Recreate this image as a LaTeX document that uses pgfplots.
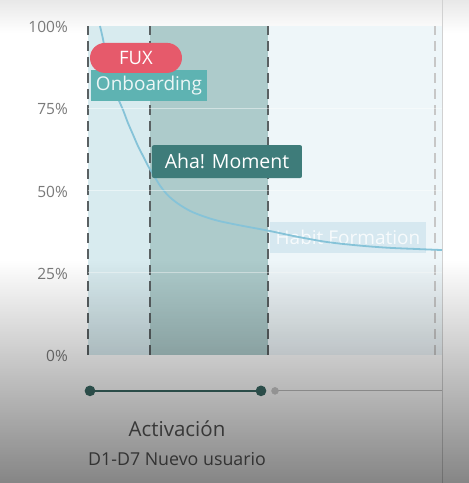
\documentclass[border=0pt]{standalone}
\usepackage{fontspec}
\setmainfont{Open Sans}
\usepackage{pgfplots}
\pgfplotsset{compat=1.18}
\usetikzlibrary{fadings}

\definecolor{fuxred}{HTML}{E65A6B}
\definecolor{onbteal}{HTML}{5EB3B2}
\definecolor{ahateal}{HTML}{3E7C7A}
\definecolor{habitbox}{HTML}{CFE4EE}
\definecolor{leftfill}{HTML}{D8EBEF}
\definecolor{midfill}{HTML}{ADCBCB}
\definecolor{rightfill}{HTML}{EEF6F9}
\definecolor{curveblue}{HTML}{86C3D8}
\definecolor{dashgray}{HTML}{5A6163}
\definecolor{tickgray}{HTML}{7A7A7A}
\definecolor{timeline}{HTML}{3D6B66}

\tikzfading[name=fadeup, top color=transparent!100, bottom color=transparent!0]

\begin{document}
\begin{tikzpicture}[x=1pt,y=1pt]
\useasboundingbox (0,0) rectangle (469,483);
\fill[white] (0,0) rectangle (469,483);
\fill[top color=black!9, bottom color=white] (0,450) rectangle (469,483);

\begin{axis}[
    at={(88pt,128pt)}, anchor=south west,
    scale only axis, width=354pt, height=329pt,
    xmin=0, xmax=354, ymin=0, ymax=100,
    clip=false, axis on top,
    axis line style={draw=none},
    major tick length=0pt, minor tick length=0pt,
    xtick=\empty,
    ytick={0,25,50,75,100},
    yticklabels={0\%,25\%,50\%,75\%,100\%},
    yticklabel style={font=\fontsize{15.5}{17}\selectfont, text=tickgray, anchor=east, inner sep=0pt, xshift=-20pt, yshift=-1pt},
    minor ytick={25,50,75}, yminorgrids,
    minor grid style={white, line width=1.2pt, opacity=0.45},
]
% phase backgrounds
\addplot[draw=none, fill=leftfill] coordinates {(0,0)(62,0)(62,100)(0,100)} -- cycle;
\addplot[draw=none, fill=midfill] coordinates {(62,0)(180,0)(180,100)(62,100)} -- cycle;
\addplot[draw=none, fill=rightfill] coordinates {(180,0)(354,0)(354,100)(180,100)} -- cycle;

% phase boundaries
\addplot[dashgray, line width=2.3pt, dash pattern=on 10pt off 6pt] coordinates {(0,0)(0,100)};
\addplot[dashgray, line width=2.3pt, dash pattern=on 10pt off 6pt] coordinates {(62,0)(62,100)};
\addplot[dashgray, line width=2.3pt, dash pattern=on 10pt off 6pt] coordinates {(180,0)(180,100)};
\addplot[black!22, line width=1.5pt, dash pattern=on 10pt off 6pt] coordinates {(347,0)(347,100)};
\addplot[black!18, line width=1pt] coordinates {(354,107.9)(354,-38.9)};

\node[fill=habitbox, fill opacity=0.75, text opacity=0.8, text=white, minimum width=156pt, minimum height=31pt, inner sep=0pt,
      font=\fontsize{19}{22}\selectfont] at (axis cs:260,35.7) {Habit Formation};

% retention curve
\addplot[curveblue, line width=1.8pt, smooth] coordinates {
    (12,100)(15,96)(18,91)(21,87)(25,82)(30,78)(35,74.5)(40,70.5)(45,67)
    (50,63.5)(55,60.5)(60,57.5)(65,55)(72,51.5)(80,48.5)(90,46)(102,43.8)
    (115,42.2)(130,40.8)(152,39.4)(180,37.8)(210,35.9)(240,34.3)(270,33.3)
    (300,32.6)(330,32.2)(354,31.9)
};

\node[fill=onbteal, text=white!88!onbteal, minimum width=116pt, minimum height=31pt, inner sep=0pt,
      font=\fontsize{19}{22}\selectfont] at (axis cs:61,81.9) {Onboarding};
\node[fill=fuxred, text=white, rounded corners=15pt, minimum width=92pt, minimum height=30pt, inner sep=0pt,
      font=\fontsize{18.5}{22}\selectfont] at (axis cs:48,90.3) {FUX};
\node[fill=ahateal, text=white, rounded corners=2pt, minimum width=150pt, minimum height=33pt, inner sep=0pt,
      font=\fontsize{19.5}{22}\selectfont] at (axis cs:139,58.8) {Aha! Moment};

% timeline
\addplot[black!25, line width=1pt] coordinates {(187,-10.9)(354,-10.9)};
\addplot[only marks, mark=*, mark size=3.5pt, black!20] coordinates {(187,-10.9)};
\addplot[timeline, line width=2.5pt, mark=*, mark size=4pt] coordinates {(2,-10.9)(173,-10.9)};
\end{axis}

% video shade at the bottom
\fill[black, opacity=0.48, path fading=fadeup] (0,0) rectangle (469,223);

\node[text=black!78, font=\fontsize{20.5}{24}\selectfont] at (177,54) {Activación};
\node[text=black!80, font=\fontsize{17.8}{21}\selectfont] at (177,24) {D1-D7 Nuevo usuario};
\end{tikzpicture}
\end{document}
